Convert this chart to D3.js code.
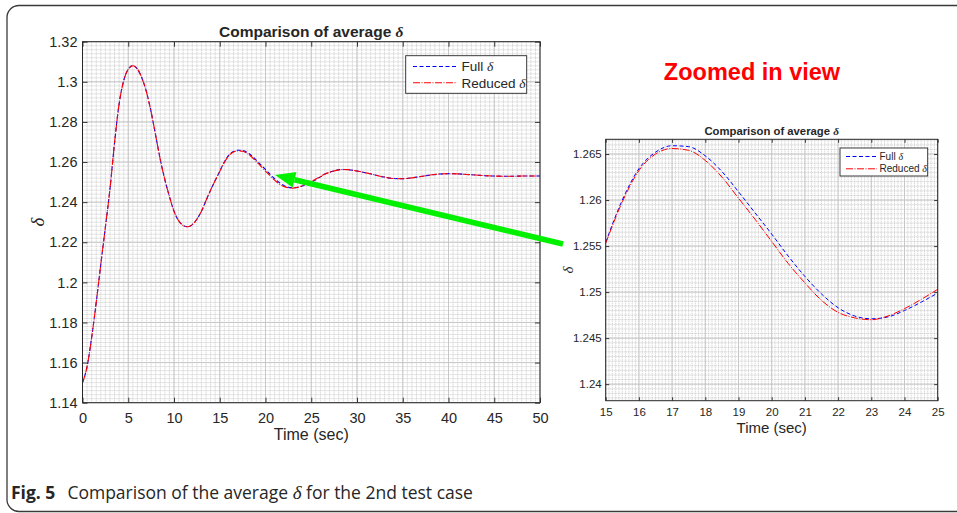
<!DOCTYPE html>
<html lang="en">
  <head>
    <meta charset="UTF-8" />
    <title>Comparison of average delta</title>
    <style>
      body { margin: 0; background: #fff; }
      svg text { font-family: "Liberation Sans", Arial, sans-serif; fill: #262626; }
    </style>
  </head>
  <body>
    <svg id="chart" width="957" height="513"></svg>

    <script src="https://cdn.jsdelivr.net/npm/d3@7"></script>

    <script>
      // time (sec)
      const time = [
        0, 0.5, 1, 1.5, 2, 2.5, 3, 3.5, 4, 4.5, 5, 5.5, 6, 6.5, 7, 7.5, 8, 8.5, 9, 9.5,
        10, 10.5, 11, 11.5, 12, 12.5, 13, 13.5, 14, 14.5, 15, 15.5, 16, 16.5, 17, 17.5,
        18, 18.5, 19, 19.5, 20, 20.5, 21, 21.5, 22, 22.5, 23, 23.5, 24, 24.5, 25, 25.5,
        26, 26.5, 27, 27.5, 28, 28.5, 29, 29.5, 30, 31, 32, 33, 34, 35, 36, 37, 38, 39,
        40, 41, 42, 43, 44, 45, 46, 47, 48, 49, 50
      ];
      const reducedDelta = [
        1.1500, 1.1580, 1.1725, 1.1900, 1.2090, 1.2275, 1.2465, 1.2695, 1.2890, 1.3005,
        1.3063, 1.3080, 1.3064, 1.3018, 1.2948, 1.2850, 1.2732, 1.2612, 1.2512, 1.2428,
        1.2355, 1.2308, 1.2284, 1.2277, 1.2288, 1.2315, 1.2355, 1.2408, 1.2460, 1.2508,
        1.2553, 1.2598, 1.2632, 1.2650, 1.2656, 1.2654, 1.2643, 1.2625, 1.2602, 1.2579,
        1.2555, 1.2531, 1.2510, 1.2491, 1.2478, 1.2472, 1.2470, 1.2474, 1.2482, 1.2492,
        1.2503, 1.2515, 1.2528, 1.2540, 1.2549, 1.2556, 1.2561, 1.2563, 1.2562, 1.2559,
        1.2555, 1.2546, 1.2535, 1.2525, 1.2518, 1.2517, 1.2521, 1.2528, 1.2535, 1.2540,
        1.2542, 1.2541, 1.2538, 1.2535, 1.2532, 1.2530, 1.2529, 1.2529, 1.2530, 1.2530,
        1.2530
      ];
      const fullDelta = [
        1.1500, 1.1580, 1.1725, 1.1900, 1.2090, 1.2275, 1.2465, 1.2695, 1.2890, 1.3005,
        1.3063, 1.3080, 1.3064, 1.3018, 1.2948, 1.2850, 1.2732, 1.2612, 1.2512, 1.2428,
        1.2355, 1.2308, 1.2284, 1.2277, 1.2288, 1.2315, 1.2355, 1.2408, 1.2460, 1.2508,
        1.2554, 1.2600, 1.2634, 1.2652, 1.2659, 1.2658, 1.2648, 1.2631, 1.2609, 1.2586,
        1.2563, 1.2539, 1.2517, 1.2498, 1.2483, 1.2474, 1.2471, 1.2473, 1.2480, 1.2489,
        1.2499, 1.2512, 1.2526, 1.2540, 1.2549, 1.2556, 1.2561, 1.2563, 1.2562, 1.2559,
        1.2555, 1.2546, 1.2535, 1.2525, 1.2518, 1.2517, 1.2521, 1.2528, 1.2535, 1.2540,
        1.2542, 1.2541, 1.2538, 1.2535, 1.2532, 1.2530, 1.2529, 1.2529, 1.2530, 1.2530,
        1.2530
      ];

      // tick labels
      const mainXTicks = [0, 5, 10, 15, 20, 25, 30, 35, 40, 45, 50];
      const mainYTicks = [1.14, 1.16, 1.18, 1.2, 1.22, 1.24, 1.26, 1.28, 1.3, 1.32];
      const zoomXTicks = [15, 16, 17, 18, 19, 20, 21, 22, 23, 24, 25];
      const zoomYTicks = [1.24, 1.245, 1.25, 1.255, 1.26, 1.265];

      const legendNames = ["Full", "Reduced"];

      const series = [
        { name: legendNames[0], values: fullDelta, color: "#0000ff", dash: "4,2.5" },
        { name: legendNames[1], values: reducedDelta, color: "#ff0000", dash: "7,1.5,1,1.5" }
      ];

      const svg = d3.select("#chart");
      const fmt = d3.format("~g");

      // outer frame (rounded on the left side)
      svg.append("path")
        .attr("d", "M957,5.5 H19 A12,12 0 0 0 7,17.5 V499 A12,12 0 0 0 19,511.5 H957")
        .attr("fill", "none")
        .attr("stroke", "#3a3a3a")
        .attr("stroke-width", 1.3);

      function addDelta(sel, size) {
        sel.append("tspan")
          .attr("font-family", "'Liberation Serif', serif")
          .attr("font-style", "italic")
          .style("font-size", size ? size + "px" : null)
          .text("δ");
      }

      function drawPanel(p) {
        const x = d3.scaleLinear().domain(p.xDomain).range([p.left, p.right]);
        const y = d3.scaleLinear().domain(p.yDomain).range([p.bottom, p.top]);
        const g = svg.append("g");

        // minor grid
        const xMinor = d3.range(p.xDomain[0], p.xDomain[1] + 1e-9, p.xMinor);
        const yMinor = d3.range(p.yTicks[0] - 20 * p.yMinor, p.yDomain[1], p.yMinor)
          .filter(v => v >= p.yDomain[0] && v <= p.yDomain[1]);
        g.append("g")
          .selectAll("line")
          .data(xMinor)
          .enter()
          .append("line")
          .attr("x1", d => x(d)).attr("x2", d => x(d))
          .attr("y1", p.top).attr("y2", p.bottom)
          .attr("stroke", "#b4b4b4")
          .attr("stroke-width", 0.7)
          .attr("stroke-dasharray", "1,1");
        g.append("g")
          .selectAll("line")
          .data(yMinor)
          .enter()
          .append("line")
          .attr("y1", d => y(d)).attr("y2", d => y(d))
          .attr("x1", p.left).attr("x2", p.right)
          .attr("stroke", "#b4b4b4")
          .attr("stroke-width", 0.7)
          .attr("stroke-dasharray", "1,1");

        // major grid
        g.append("g")
          .selectAll("line")
          .data(p.xTicks)
          .enter()
          .append("line")
          .attr("x1", d => x(d)).attr("x2", d => x(d))
          .attr("y1", p.top).attr("y2", p.bottom)
          .attr("stroke", "#c4c4c4")
          .attr("stroke-width", 0.9);
        g.append("g")
          .selectAll("line")
          .data(p.yTicks)
          .enter()
          .append("line")
          .attr("y1", d => y(d)).attr("y2", d => y(d))
          .attr("x1", p.left).attr("x2", p.right)
          .attr("stroke", "#c4c4c4")
          .attr("stroke-width", 0.9);

        // curves
        const clipId = "clip-" + p.id;
        svg.append("clipPath").attr("id", clipId)
          .append("rect")
          .attr("x", p.left).attr("y", p.top)
          .attr("width", p.right - p.left).attr("height", p.bottom - p.top);

        const line = d3.line()
          .defined((d, i) => time[i] >= p.xDomain[0] && time[i] <= p.xDomain[1])
          .x((d, i) => x(time[i]))
          .y(d => y(d))
          .curve(d3.curveMonotoneX);

        g.append("g")
          .attr("clip-path", `url(#${clipId})`)
          .selectAll("path")
          .data(series)
          .enter()
          .append("path")
          .attr("d", d => line(d.values))
          .attr("fill", "none")
          .attr("stroke", d => d.color)
          .attr("stroke-width", p.lineWidth)
          .attr("stroke-dasharray", d => d.dash);

        // axes (ticks point inward, on all four sides)
        const axes = [
          g.append("g").attr("transform", `translate(0,${p.bottom})`)
            .call(d3.axisBottom(x).tickValues(p.xTicks).tickFormat(fmt)
              .tickSizeInner(-p.tick).tickSizeOuter(0).tickPadding(p.xPad)),
          g.append("g").attr("transform", `translate(0,${p.top})`)
            .call(d3.axisTop(x).tickValues(p.xTicks).tickFormat("")
              .tickSizeInner(-p.tick).tickSizeOuter(0)),
          g.append("g").attr("transform", `translate(${p.left},0)`)
            .call(d3.axisLeft(y).tickValues(p.yTicks).tickFormat(fmt)
              .tickSizeInner(-p.tick).tickSizeOuter(0).tickPadding(p.yPad)),
          g.append("g").attr("transform", `translate(${p.right},0)`)
            .call(d3.axisRight(y).tickValues(p.yTicks).tickFormat("")
              .tickSizeInner(-p.tick).tickSizeOuter(0))
        ];
        axes.forEach(a => {
          a.attr("font-family", null).attr("font-size", null);
          a.select(".domain").remove();
          a.selectAll("line").attr("stroke", "#262626").attr("stroke-width", 0.9);
          a.selectAll("text").style("font-size", p.tickSize + "px").attr("fill", "#1a1a1a");
        });

        g.append("rect")
          .attr("x", p.left).attr("y", p.top)
          .attr("width", p.right - p.left).attr("height", p.bottom - p.top)
          .attr("fill", "none")
          .attr("stroke", "#262626")
          .attr("stroke-width", 1);

        // title
        const title = g.append("text")
          .attr("x", (p.left + p.right) / 2)
          .attr("y", p.titleY)
          .attr("text-anchor", "middle")
          .style("font-size", p.titleSize + "px")
          .style("font-weight", "bold")
          .attr("fill", "#000");
        title.append("tspan").text("Comparison of average ");
        addDelta(title);

        // axis labels
        g.append("text")
          .attr("x", (p.left + p.right) / 2)
          .attr("y", p.xLabelY)
          .attr("text-anchor", "middle")
          .style("font-size", p.labelSize + "px")
          .text("Time (sec)");

        const yl = g.append("text")
          .attr("transform", `translate(${p.yLabelX},${(p.top + p.bottom) / 2}) rotate(-90)`)
          .attr("text-anchor", "middle")
          .style("font-size", p.deltaSize + "px");
        addDelta(yl);

        // legend
        const L = p.legend;
        g.append("rect")
          .attr("x", L.x).attr("y", L.y)
          .attr("width", L.w).attr("height", L.h)
          .attr("fill", "#fff")
          .attr("stroke", "#262626")
          .attr("stroke-width", 0.9);
        const items = g.append("g")
          .selectAll("g")
          .data(series)
          .enter()
          .append("g")
          .attr("transform", (d, i) => `translate(0,${L.rows[i]})`);
        items.append("line")
          .attr("x1", L.lineX1).attr("x2", L.lineX2)
          .attr("y1", 0).attr("y2", 0)
          .attr("stroke", d => d.color)
          .attr("stroke-width", p.lineWidth)
          .attr("stroke-dasharray", d => d.dash);
        const lt = items.append("text")
          .attr("x", L.textX)
          .attr("y", L.textDy)
          .style("font-size", L.size + "px")
          .attr("fill", "#000");
        lt.append("tspan").text(d => d.name + " ");
        lt.each(function () { addDelta(d3.select(this)); });

        return { x, y };
      }

      const main = drawPanel({
        id: "main",
        left: 82.5, right: 540, top: 41.7, bottom: 402.7,
        xDomain: [0, 50], yDomain: [1.14, 1.32],
        xTicks: mainXTicks, yTicks: mainYTicks,
        xMinor: 0.5, yMinor: 0.002,
        tick: 5, xPad: 10, yPad: 5, tickSize: 14.5,
        lineWidth: 1.1,
        titleY: 37, titleSize: 15.5,
        xLabelY: 440, labelSize: 16,
        yLabelX: 44, deltaSize: 19,
        legend: {
          x: 405.7, y: 55.7, w: 121, h: 37.6,
          rows: [66.5, 82.7], lineX1: 413, lineX2: 457,
          textX: 461.5, textDy: 4.8, size: 13.5
        }
      });

      drawPanel({
        id: "zoom",
        left: 605.7, right: 937.7, top: 139.3, bottom: 400.7,
        xDomain: [15, 25], yDomain: [1.2382, 1.2666],
        xTicks: zoomXTicks, yTicks: zoomYTicks,
        xMinor: 0.1, yMinor: 0.0005,
        tick: 3.5, xPad: 7, yPad: 4, tickSize: 11.5,
        lineWidth: 1,
        titleY: 135, titleSize: 11.3,
        xLabelY: 433, labelSize: 15,
        yLabelX: 573, deltaSize: 15,
        legend: {
          x: 840, y: 148, w: 87.7, h: 28,
          rows: [156.5, 168.8], lineX1: 846, lineX2: 877,
          textX: 879.5, textDy: 3.6, size: 10
        }
      });

      // "Zoomed in view" label
      svg.append("text")
        .attr("x", 752)
        .attr("y", 80)
        .attr("text-anchor", "middle")
        .style("font-size", "23.5px")
        .style("font-weight", "bold")
        .style("fill", "#ff0000")
        .text("Zoomed in view");

      // green arrow pointing at the second peak region of the main plot
      const tipX = main.x(21.05), tipY = main.y(1.2535);
      const tailX = 563, tailY = 244;
      const ang = Math.atan2(tailY - tipY, tailX - tipX);
      const headLen = 20, headHalf = 8;
      const bx = tipX + headLen * Math.cos(ang), by = tipY + headLen * Math.sin(ang);
      svg.append("line")
        .attr("x1", bx).attr("y1", by)
        .attr("x2", tailX).attr("y2", tailY)
        .attr("stroke", "#00f000")
        .attr("stroke-width", 5.5);
      svg.append("polygon")
        .attr("points", [
          [tipX, tipY],
          [bx - headHalf * Math.sin(ang), by + headHalf * Math.cos(ang)],
          [bx + headHalf * Math.sin(ang), by - headHalf * Math.cos(ang)]
        ].map(d => d.join(",")).join(" "))
        .attr("fill", "#00f000");

      // caption
      const cap = svg.append("text")
        .attr("x", 11)
        .attr("y", 499)
        .style("font-family", "'Open Sans', 'Noto Sans', sans-serif")
        .style("font-size", "17.5px")
        .attr("fill", "#231f20");
      cap.append("tspan").style("font-weight", "bold").text("Fig. 5");
      cap.append("tspan").attr("dx", 12).text("Comparison of the average ");
      cap.append("tspan").attr("font-family", "'Liberation Serif', serif").attr("font-style", "italic").style("font-size", "19px").text("δ");
      cap.append("tspan").text(" for the 2nd test case");
    </script>
  </body>
</html>
